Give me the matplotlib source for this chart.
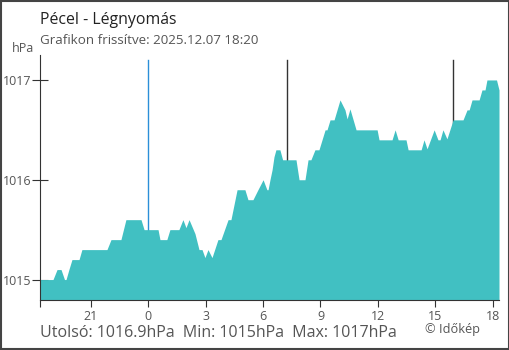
import matplotlib.pyplot as plt
import matplotlib.patches as patches

plt.rcParams['font.family'] = ['Open Sans', 'DejaVu Sans']

# idő (óra, éjfélhez képest) és légnyomás (hPa)
hours = [-5.66, -4.98, -4.77, -4.56, -4.38, -4.30, -4.15, -3.99, -3.62, -3.47,
         -2.16, -1.95, -1.43, -1.17, -0.38, -0.22, 0.51, 0.61, 0.97, 1.13,
         1.60, 1.81, 1.97, 2.13, 2.44, 2.65, 2.81, 2.96, 3.12, 3.33,
         3.64, 3.80, 4.17, 4.32, 4.64, 5.05, 5.21, 5.47, 5.73, 6.00,
         6.20, 6.26, 6.36, 6.47, 6.57, 6.67, 6.88, 7.02, 7.72, 7.88,
         8.19, 8.35, 8.50, 8.71, 8.92, 9.08, 9.24, 9.34, 9.50, 9.71,
         10.02, 10.28, 10.39, 10.54, 10.86, 11.96, 12.06, 12.74, 12.90, 13.06,
         13.47, 13.58, 14.26, 14.41, 14.57, 14.94, 15.14, 15.25, 15.40, 15.61,
         15.93, 16.45, 16.66, 16.77, 16.92, 17.29, 17.44, 17.60, 17.70, 18.20,
         18.33]
pressure = [1015.0, 1015.0, 1015.1, 1015.1, 1015.0, 1015.0, 1015.1, 1015.2, 1015.2, 1015.3,
            1015.3, 1015.4, 1015.4, 1015.6, 1015.6, 1015.5, 1015.5, 1015.4, 1015.4, 1015.5,
            1015.5, 1015.6, 1015.52, 1015.6, 1015.46, 1015.3, 1015.3, 1015.22, 1015.3, 1015.22,
            1015.4, 1015.4, 1015.6, 1015.6, 1015.9, 1015.9, 1015.8, 1015.8, 1015.9, 1016.0,
            1015.9, 1015.9, 1016.0, 1016.1, 1016.23, 1016.3, 1016.3, 1016.2, 1016.2, 1016.0,
            1016.0, 1016.2, 1016.2, 1016.3, 1016.3, 1016.4, 1016.5, 1016.5, 1016.6, 1016.6,
            1016.8, 1016.7, 1016.61, 1016.71, 1016.5, 1016.5, 1016.4, 1016.4, 1016.5, 1016.4,
            1016.4, 1016.3, 1016.3, 1016.4, 1016.31, 1016.5, 1016.4, 1016.4, 1016.5, 1016.41,
            1016.6, 1016.6, 1016.7, 1016.7, 1016.8, 1016.8, 1016.9, 1016.9, 1017.0, 1017.0,
            1016.9]

xticks = [-3, 0, 3, 6, 9, 12, 15, 18]
xticklabels = ['21', '0', '3', '6', '9', '12', '15', '18']
yticks = [1015, 1016, 1017]
midnight = 0.0
sunrise = 7.26
sunset = 15.9

fig = plt.figure(figsize=(5.1, 3.5), dpi=100)
ax = fig.add_axes([40/510, 50/350, 459/510, 245/350])
ax.set_xlim(-5.66, 18.33)
ax.set_ylim(1014.795, 1017.25)

# függőleges vonalak (éjfél, napkelte, napnyugta)
ax.plot([midnight, midnight], [1014.795, 1017.2], color='#2b8fd8', lw=1, zorder=1)
ax.plot([sunrise, sunrise], [1014.795, 1017.2], color='#333333', lw=1, zorder=1)
ax.plot([sunset, sunset], [1014.795, 1017.2], color='#333333', lw=1, zorder=1)

ax.fill_between(hours, pressure, 1014.795, color='#41c0c2', lw=0, zorder=2)

ax.spines['top'].set_visible(False)
ax.spines['right'].set_visible(False)
ax.spines['left'].set_color('#333333')
ax.spines['bottom'].set_color('#333333')

ax.set_xticks([-5.66] + xticks)
ax.set_xticklabels([''] + xticklabels)
ax.set_yticks(yticks)
ax.tick_params(axis='x', direction='out', length=5, colors='#333333',
               labelcolor='#555555', labelsize=9, pad=2)
ax.tick_params(axis='y', direction='inout', length=12, colors='#333333',
               labelcolor='#555555', labelsize=9, pad=0)
ax.get_xticklines()[2].set_color('#2b8fd8')

fig.text(40/510, 1 - 20/350, 'Pécel - Légnyomás', fontsize=11.4, color='#222222', va='center')
fig.text(40/510, 1 - 41/350, 'Grafikon frissítve: 2025.12.07 18:20', fontsize=9.6,
         color='#555555', va='center')
fig.text(12/510, 1 - 49/350, 'hPa', fontsize=9, color='#555555', va='center')
fig.text(40/510, 1 - 333/350, 'Utolsó: 1016.9hPa  Min: 1015hPa  Max: 1017hPa',
         fontsize=11.5, color='#555555', va='center')
fig.text(425/510, 1 - 330/350, '© Időkép', fontsize=9.2, color='#555555', va='center')

fig.patches.append(patches.Rectangle((0.001, 0.0015), 0.998, 0.997, transform=fig.transFigure,
                                     fill=False, edgecolor='#444444', lw=1.5))

fig.savefig('out.png', dpi=100)
